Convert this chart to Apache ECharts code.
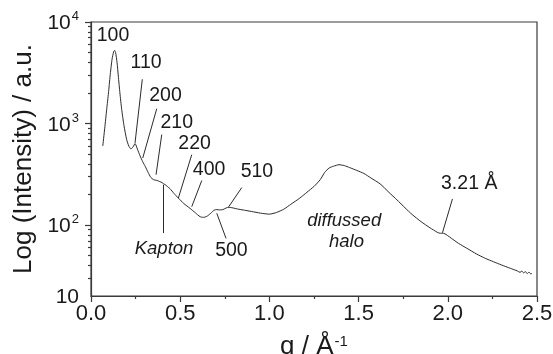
<!DOCTYPE html>
<html><head><meta charset="utf-8">
<script src="https://cdn.jsdelivr.net/npm/echarts@6/dist/echarts.min.js"></script>
<style>html,body{margin:0;padding:0;background:#fff}#c{width:553px;height:354px}</style>
</head><body><div id="c"></div><script>
// Scattering curve (q in 1/Å, intensity in a.u.)
const qValues = [0.066,0.077,0.088,0.098,0.107,0.118,0.127,0.132,0.138,0.146,0.153,0.162,0.172,0.185,0.2,0.212,0.224,0.236,0.247,0.26,0.275,0.29,0.305,0.32,0.335,0.35,0.37,0.385,0.398,0.405,0.415,0.428,0.443,0.465,0.49,0.52,0.555,0.585,0.611,0.63,0.65,0.67,0.69,0.705,0.72,0.74,0.76,0.78,0.82,0.86,0.9,0.95,1.0,1.04,1.08,1.12,1.17,1.21,1.25,1.285,1.31,1.335,1.36,1.39,1.42,1.45,1.49,1.53,1.57,1.62,1.67,1.715,1.76,1.8,1.85,1.9,1.94,1.957,1.975,2.02,2.06,2.107,2.16,2.21,2.256,2.3,2.35,2.39,2.405,2.415,2.425,2.435,2.445,2.455,2.465,2.472];
const intensity = [600,900,1380,2000,2940,4300,5100,5250,5000,4000,2940,2000,1380,950,693,600,562,590,634,560,480,420,375,330,295,280,275,268,262,256,250,240,228,205,184,163,146,132,121,119,122,130,140,142,141,142,148,149,144,140,136,131,128,133,143,160,184,210,240,280,330,365,380,393,385,368,345,322,290,255,210,177,148,127,108,94,85,83,83,74,66,59,52,47,43.5,40.5,37.5,35.3,34.2,35.2,33.8,34.8,33.2,34.4,33,33.4];

const xTickValues = [0, 0.5, 1.0, 1.5, 2.0, 2.5];
const yLabelValues = [20, 100, 1000, 10000];
const yLabelBase = ['10', '10', '10', '10'];
const yLabelExp = ['', '2', '3', '4'];
const yMinorValues = [30,40,50,60,70,80,90,200,300,400,500,600,700,800,900,2000,3000,4000,5000,6000,7000,8000,9000];

// Annotations (anchored in data space)
const noteTexts = ['100','110','200','210','220','400','510','500','Kapton','diffussed','halo','3.21 Å'];
const noteQ = [0.1234,0.3085,0.4178,0.4807,0.5805,0.6618,0.930,0.787,0.4094,1.419,1.432,2.120];
const noteI = [7380,4018,1862,1016,627,353,337,55.6,57.8,109.6,67.9,254.7];
const noteItalic = [false,false,false,false,false,false,false,false,true,true,true,false];
// Leader lines
const leadQ1 = [0.2877,0.3685,0.3965,0.5648,0.6209,0.8452,0.705,0.4055,2.026];
const leadI1 = [2729,1398,778,493,274.5,234,130.6,249,180.7];
const leadQ2 = [0.2468,0.290,0.3646,0.4896,0.5648,0.770,0.757,0.4055,1.970];
const leadI2 = [644,457,313,184,151.7,149.6,73.8,83.3,83.9];

const FONT = 'Liberation Sans, Arial, sans-serif';
const TXT = '#1a1a1a';
const AX = '#3a3a3a';

const curve = qValues.map((q, i) => [q, intensity[i]]);

const markPoints = noteTexts.map((t, i) => ({
  coord: [noteQ[i], noteI[i]],
  symbolSize: 0,
  label: {
    show: true, formatter: t, position: 'inside',
    fontSize: noteItalic[i] ? 18.5 : 19.5,
    fontStyle: noteItalic[i] ? 'italic' : 'normal',
    color: TXT, fontFamily: FONT
  }
}));
const markLines = leadQ1.map((q, i) => [
  { coord: [q, leadI1[i]] },
  { coord: [leadQ2[i], leadI2[i]] }
]);

const chart = echarts.init(document.getElementById('c'), null, { renderer: 'canvas' });
chart.setOption({
  animation: false,
  backgroundColor: '#fff',
  grid: { left: 91, right: 16, top: 22, bottom: 58, show: true, borderColor: AX, borderWidth: 1.2,
          backgroundColor: 'transparent', containLabel: false, outerBoundsMode: 'none' },
  xAxis: {
    type: 'value', min: 0, max: 2.5, interval: 0.5,
    axisLine: { show: true, onZero: false, lineStyle: { color: AX, width: 1.2 } },
    axisTick: { show: true, length: 6, lineStyle: { color: AX, width: 1.2 } },
    minorTick: { show: true, splitNumber: 2, length: 3, lineStyle: { color: AX, width: 1.2 } },
    splitLine: { show: false },
    axisLabel: { fontSize: 22, color: TXT, fontFamily: FONT, margin: 7,
      customValues: xTickValues, formatter: v => v.toFixed(1) },
    name: '{b|q / Å}{s|-1}', nameLocation: 'middle', nameGap: 38,
    nameTextStyle: { fontFamily: FONT, color: TXT,
      rich: { b: { fontSize: 26, fontFamily: FONT, color: TXT, verticalAlign: 'bottom' },
              s: { fontSize: 15, fontFamily: FONT, color: TXT, verticalAlign: 'top', padding: [0,0,0,1] } } }
  },
  yAxis: [{
    type: 'log', logBase: 10, min: 20, max: 10000,
    axisLine: { show: true, lineStyle: { color: AX, width: 1.2 } },
    axisTick: { show: true, length: 6, customValues: [100, 1000, 10000], lineStyle: { color: AX, width: 1.2 } },
    minorTick: { show: false },
    splitLine: { show: false },
    axisLabel: {
      customValues: yLabelValues, margin: 12, fontFamily: FONT,
      formatter: v => {
        const i = yLabelValues.findIndex(x => Math.abs(x - v) / x < 1e-6);
        if (i < 0) return '';
        return yLabelExp[i] ? '{b|' + yLabelBase[i] + '}{s|' + yLabelExp[i] + '}' : '{b|' + yLabelBase[i] + '}';
      },
      rich: { b: { fontSize: 21, fontFamily: FONT, color: TXT, verticalAlign: 'bottom', lineHeight: 24 },
              s: { fontSize: 13, fontFamily: FONT, color: TXT, verticalAlign: 'top', lineHeight: 24, padding: [0,0,0,1] } }
    },
    name: 'Log (Intensity) / a.u.', nameLocation: 'middle', nameGap: 53,
    nameTextStyle: { fontSize: 26, fontFamily: FONT, color: TXT }
  }, {
    type: 'log', logBase: 10, min: 20, max: 10000, position: 'left',
    axisLine: { show: false },
    axisTick: { show: true, length: 3, customValues: yMinorValues, lineStyle: { color: AX, width: 1.2 } },
    axisLabel: { show: false },
    splitLine: { show: false }
  }],
  series: [{
    type: 'line', data: curve, yAxisIndex: 0,
    showSymbol: false, smooth: 0.2,
    lineStyle: { color: '#2b2b2b', width: 1 },
    markPoint: { silent: true, symbol: 'circle', data: markPoints },
    markLine: { silent: true, symbol: ['none', 'none'], label: { show: false },
      lineStyle: { color: '#2b2b2b', width: 1, type: 'solid' }, emphasis: { disabled: true }, data: markLines }
  }]
});
</script></body></html>
